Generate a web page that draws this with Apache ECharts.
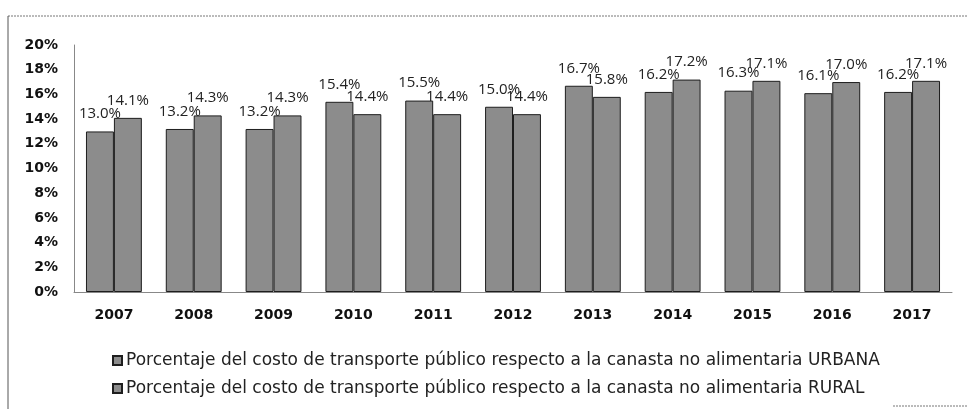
<!DOCTYPE html>
<html>
<head>
<meta charset="utf-8">
<script src="https://cdn.jsdelivr.net/npm/echarts@6/dist/echarts.min.js"></script>
<style>
  html, body { margin: 0; padding: 0; background: #fff; }
  #chart { width: 967px; height: 409px; }
</style>
</head>
<body>
<div id="chart"></div>
<script>
// años del eje x
const years = ["2007", "2008", "2009", "2010", "2011", "2012", "2013", "2014", "2015", "2016", "2017"];
// porcentajes (%)
const urbana = [13.0, 13.2, 13.2, 15.4, 15.5, 15.0, 16.7, 16.2, 16.3, 16.1, 16.2];
const rural = [14.1, 14.3, 14.3, 14.4, 14.4, 14.4, 15.8, 17.2, 17.1, 17.0, 17.1];
const seriesNames = [
  "Porcentaje del costo de transporte público respecto a la canasta no alimentaria URBANA",
  "Porcentaje del costo de transporte público respecto a la canasta no alimentaria RURAL",
];

const chart = echarts.init(document.getElementById("chart"));

const barStyle = {
  color: "#8c8c8c",
  borderColor: "#1e1e1e",
  borderWidth: 1,
};
const valueLabel = {
  show: true,
  position: "top",
  distance: 10,
  fontFamily: "Open Sans",
  fontSize: 15,
  color: "#222",
  formatter: (p) => p.value.toFixed(1) + "%",
};

const option = {
  animation: false,
  grid: { left: 74, right: 15, top: 45, bottom: 117 },
  legend: {
    orient: "vertical",
    left: 107,
    top: 347,
    itemGap: 11,
    itemWidth: 9,
    itemHeight: 9,
    icon: "rect",
    textStyle: { fontFamily: "DejaVu Sans", fontSize: 17, color: "#222", padding: [0, 0, 0, -1] },
    data: seriesNames,
  },
  xAxis: {
    type: "category",
    data: years,
    axisTick: { show: false },
    axisLine: { lineStyle: { color: "#888", width: 1 } },
    axisLabel: {
      margin: 16,
      fontFamily: "DejaVu Sans",
      fontWeight: "bold",
      fontSize: 14,
      color: "#111",
    },
  },
  yAxis: {
    type: "value",
    min: 0,
    max: 20,
    interval: 2,
    splitLine: { show: false },
    axisTick: { show: false },
    axisLine: { show: true, lineStyle: { color: "#888", width: 1 } },
    axisLabel: {
      margin: 16,
      fontFamily: "DejaVu Sans",
      fontWeight: "bold",
      fontSize: 14,
      color: "#111",
      formatter: "{value}%",
    },
  },
  // marco escaneado
  graphic: [
    { type: "line", shape: { x1: 8, y1: 16, x2: 967, y2: 16 }, style: { stroke: "#777", lineWidth: 1, lineDash: [2, 1] } },
    { type: "line", shape: { x1: 8, y1: 16, x2: 8, y2: 409 }, style: { stroke: "#555", lineWidth: 1 } },
    { type: "line", shape: { x1: 893, y1: 406, x2: 967, y2: 406 }, style: { stroke: "#777", lineWidth: 1, lineDash: [2, 1] } },
  ],
  series: [
    {
      name: seriesNames[0],
      type: "bar",
      data: urbana,
      barGap: "0%",
      barCategoryGap: "30%",
      itemStyle: barStyle,
      label: valueLabel,
    },
    {
      name: seriesNames[1],
      type: "bar",
      data: rural,
      itemStyle: barStyle,
      label: valueLabel,
    },
  ],
};
chart.setOption(option);
</script>
</body>
</html>
